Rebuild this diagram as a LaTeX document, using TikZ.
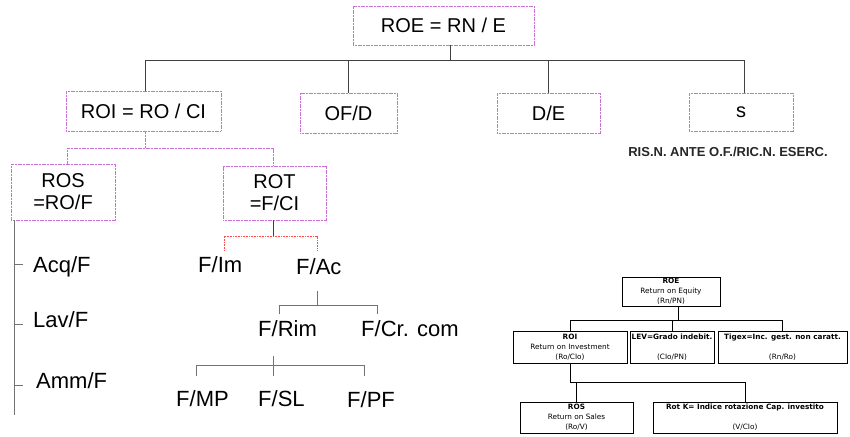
\documentclass[tikz,border=0pt]{standalone}
\usepackage{fontspec}
\setmainfont{Liberation Sans}
\newfontfamily\smallfont{DejaVu Sans}
\definecolor{bordermix}{RGB}{205,110,215}
\begin{document}
\begin{tikzpicture}[x=1pt,y=-1pt,
  cbox/.style={draw=bordermix, line width=0.8pt, dash pattern=on 1.2pt off 0.4pt,
    inner sep=0pt, align=center, font=\fontsize{20}{22}\selectfont},
  lab/.style={inner sep=0pt, anchor=base west, font=\fontsize{22}{24}\selectfont},
  conn/.style={draw=black!75, line width=0.8pt},
  cconn/.style={draw=bordermix, line width=0.8pt, dash pattern=on 1.2pt off 0.4pt},
  rconn/.style={draw=red!70, dash pattern=on 1pt off 0.6pt, line width=0.8pt},
  gconn/.style={draw=black!55, line width=0.8pt},
  sbox/.style={draw=black, line width=0.7pt, inner sep=0pt, align=center,
    font=\smallfont\fontsize{7.3}{9.8}\selectfont},
  sconn/.style={draw=black, line width=0.7pt}]
\useasboundingbox (0,0) rectangle (850,436);
\fill[white] (0,0) rectangle (850,436);

% ---------- main tree ----------
\node[cbox, minimum width=181pt, minimum height=39pt] (roe) at (443.5,25.5) {ROE = RN / E};
\node[cbox, minimum width=155pt, minimum height=40pt] (roi) at (143.5,111) {ROI = RO / CI};
\node[cbox, minimum width=97pt, minimum height=40pt] (ofd) at (348.5,113) {OF/D};
\node[cbox, minimum width=103pt, minimum height=40pt] (de) at (548.5,113) {D/E};
\node[cbox, minimum width=104pt, minimum height=38pt] (s) at (741,112) {s};
\node[inner sep=0pt, text=black!85, font=\bfseries\fontsize{13}{15}\selectfont] (ris) at (728,152) {RIS.N. ANTE O.F./RIC.N. ESERC.};

\node[cbox, minimum width=104pt, minimum height=56pt] (ros) at (63,192) {ROS\\=RO/F};
\node[cbox, minimum width=103pt, minimum height=54pt] (rot) at (274.5,193) {ROT\\=F/CI};

\node[lab] (acq) at (33,272) {Acq/F};
\node[lab] (lav) at (33,327) {Lav/F};
\node[lab] (amm) at (36,388) {Amm/F};

\node[lab] (fim) at (198,272) {F/Im};
\node[lab] (fac) at (296,274) {F/Ac};
\node[lab] (frim) at (258,336) {F/Rim};
\node[lab] (fcr) at (361,336) {F/Cr. com};
\node[lab] (fmp) at (176,406) {F/MP};
\node[lab] (fsl) at (258,406) {F/SL};
\node[lab] (fpf) at (347,407) {F/PF};

% connectors: ROE level
\coordinate (t1) at (450,60);
\coordinate (tl) at (145,60);
\coordinate (tr) at (744,60);
\draw[conn] (roe.south -| t1) -- (t1);
\draw[conn] (roi.north -| tl) -- (tl) -- (tr) -- (s.north -| tr);
\draw[conn] (ofd.north) -- (ofd.north |- t1);
\draw[conn] (de.north) -- (de.north |- t1);

% ROI level
\coordinate (r1) at (145,148);
\coordinate (rl) at (67,148);
\coordinate (rr) at (273,148);
\draw[cconn] (roi.south -| r1) -- (r1);
\draw[cconn] (ros.north -| rl) -- (rl) -- (rr) -- (rot.north -| rr);

% ROT level
\coordinate (q) at (273,236);
\coordinate (ql) at (224,236);
\coordinate (qr) at (317,236);
\coordinate (qle) at (224,251);
\coordinate (qre) at (317,251);
\draw[conn] (rot.south -| q) -- (q);
\draw[rconn] (qle) -- (ql) -- (qr) -- (qre);

% ROS side line
\coordinate (lt) at (14,220);
\coordinate (lb) at (14,415);
\draw[gconn] (ros.south -| lt) -- (lb);
\draw[gconn] (14,264) -- (23,264);
\draw[gconn] (14,324) -- (23,324);
\draw[gconn] (14,385) -- (23,385);

% F/Ac level
\coordinate (a0) at (317,291);
\coordinate (a1) at (317,305);
\coordinate (al) at (279,305);
\coordinate (ar) at (377,305);
\coordinate (ale) at (279,314);
\coordinate (are) at (377,314);
\draw[gconn] (a0) -- (a1);
\draw[gconn] (ale) -- (al) -- (ar) -- (are);

% F/Rim level
\coordinate (b0) at (273,356);
\coordinate (b1) at (273,376);
\coordinate (bl) at (196,365);
\coordinate (br) at (364,365);
\coordinate (ble) at (196,376);
\coordinate (bre) at (364,376);
\draw[gconn] (b0) -- (b1);
\draw[gconn] (ble) -- (bl) -- (br) -- (bre);

% ---------- small tree ----------
\node[sbox, minimum width=98pt, minimum height=29pt] (sroe) at (671,291.5) {\textbf{ROE}\\Return on Equity\\(Rn/PN)};
\node[sbox, minimum width=114pt, minimum height=32pt] (sroi) at (570,347) {\textbf{ROI}\\Return on Investment\\(Ro/CIo)};
\node[sbox, minimum width=84pt, minimum height=32pt] (slev) at (672,347) {\textbf{LEV=Grado indebit.}\\\mbox{}\\(CIo/PN)};
\node[sbox, minimum width=129pt, minimum height=32pt] (stig) at (782.5,347) {\textbf{Tigex=Inc. gest. non caratt.}\\\mbox{}\\(Rn/Ro)};
\node[sbox, minimum width=113pt, minimum height=31pt] (sros) at (576.5,417.5) {\textbf{ROS}\\Return on Sales\\(Ro/V)};
\node[sbox, minimum width=184pt, minimum height=31pt] (srot) at (745,417.5) {\textbf{Rot K= Indice rotazione Cap. investito}\\\mbox{}\\(V/CIo)};

\coordinate (sj) at (678,320);
\draw[sconn] (sroe.south -| sj) -- (sj);
\draw[sconn] (sroi.north) |- (stig.north |- sj) -- (stig.north);
\draw[sconn] (slev.north) -- (slev.north |- sj);
\coordinate (sk) at (570,382);
\draw[sconn] (sroi.south) -- (sk) -- (srot.north |- sk) -- (srot.north);
\draw[sconn] (sros.north) -- (sros.north |- sk);
\end{tikzpicture}
\end{document}
